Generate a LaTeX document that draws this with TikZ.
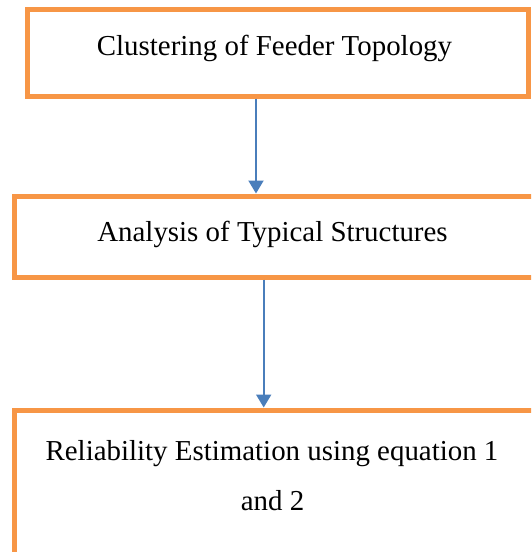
\documentclass[tikz,border=0pt]{standalone}
\usepackage{fontspec}
\setmainfont{Liberation Serif}
\usetikzlibrary{arrows.meta}
\definecolor{boxorange}{HTML}{F79646}
\definecolor{arrowblue}{HTML}{4A7EBB}
\begin{document}
\begin{tikzpicture}[x=1pt,y=-1pt,
  flowbox/.style={draw=boxorange,line width=5pt,rectangle,inner sep=0pt},
  flowtext/.style={font=\fontsize{28.9}{34}\selectfont,anchor=base,inner sep=0pt},
  flowarrow/.style={draw=arrowblue,line width=2pt,-{Triangle[width=15pt,length=13pt]}}]
\useasboundingbox (0,0) rectangle (531,552);
\clip (0,0) rectangle (531,552);
\node[flowbox,minimum width=501pt,minimum height=86.5pt] (b1) at (278,52.75) {};
\node[flowbox,minimum width=536pt,minimum height=81pt] (b2) at (282,236.5) {};
\node[flowbox,minimum width=536pt,minimum height=200pt] (b3) at (282,510) {};
\node[flowtext] (t1) at (274.5,55) {Clustering of Feeder Topology};
\node[flowtext] (t2) at (272.5,241) {Analysis of Typical Structures};
\node[flowtext] (t3a) at (272,460) {Reliability Estimation using equation 1};
\node[flowtext] (t3b) at (272.5,510) {and 2};
\coordinate (a1) at (256,0);
\coordinate (a2) at (263.7,0);
\draw[flowarrow] (b1.south -| a1) -- (b2.north -| a1);
\draw[flowarrow] (b2.south -| a2) -- (b3.north -| a2);
\end{tikzpicture}
\end{document}
